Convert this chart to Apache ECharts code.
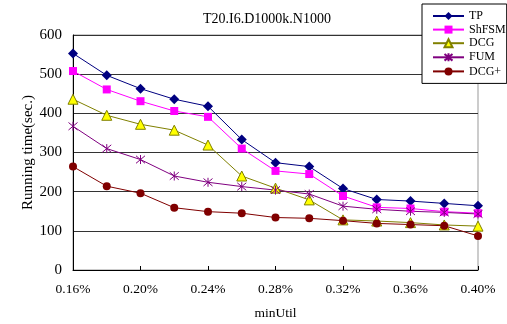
<!DOCTYPE html>
<html>
<head>
<meta charset="utf-8">
<script src="https://cdn.jsdelivr.net/npm/echarts@6/dist/echarts.min.js"></script>
<style>html,body{margin:0;padding:0;background:#fff}#c{width:507px;height:324px}</style>
</head>
<body>
<div id="c"></div>
<script>
const categories = ['0.16%','0.18%','0.20%','0.22%','0.24%','0.26%','0.28%','0.30%','0.32%','0.34%','0.36%','0.38%','0.40%'];
const tp    = [553, 497, 463, 436, 418, 333, 274, 264, 208, 180, 176, 170, 164];
const shfsm = [508, 461, 431, 406, 391, 310, 253, 245, 189, 160, 157, 149, 145];
const dcg   = [436, 395, 372, 357, 319, 240, 209, 179, 128, 125, 121, 115, 112];
const fum   = [367, 310, 282, 240, 224, 213, 204, 194, 163, 155, 150, 147, 143];
const dcgp  = [264, 214, 196, 159, 149, 145, 134, 132, 126, 119, 116, 113, 87];
const yTicks = [0, 100, 200, 300, 400, 500, 600];

const F = '"Liberation Serif","Times New Roman",serif';
const star = 'path://M0,0L10,10M10,0L0,10M5,-1L5,11';

const chart = echarts.init(document.getElementById('c'), null, {renderer:'canvas'});
chart.setOption({
  animation: false,
  backgroundColor: '#fff',
  title: {
    text: 'T20.I6.D1000k.N1000',
    left: 198, top: 7,
    textStyle: {fontFamily: F, fontSize: 14, fontWeight: 'normal', color: '#000'}
  },
  legend: {
    orient: 'vertical',
    left: 422, top: 4,
    padding: [6, 1, 6, 10],
    itemGap: 1.6,
    itemWidth: 31, itemHeight: 10,
    borderColor: '#000', borderWidth: 1,
    backgroundColor: '#fff',
    textStyle: {fontFamily: F, fontSize: 12, color: '#000', lineHeight: 12},
    data: ['TP','ShFSM','DCG','FUM','DCG+']
  },
  grid: {
    left: 73, right: 29, top: 35, bottom: 54,
    outerBoundsMode: 'none', containLabel: false,
    show: true, borderColor: '#999', borderWidth: 1
  },
  xAxis: {
    type: 'category',
    data: categories,
    boundaryGap: false,
    name: 'minUtil', nameLocation: 'middle', nameGap: 36, nameMoveOverlap: false,
    nameTextStyle: {fontFamily: F, fontSize: 13.5, color: '#000'},
    axisLine: {lineStyle: {color: '#000', width: 1}},
    axisTick: {inside: true, length: 4, interval: 1, lineStyle: {color: '#000'}},
    axisLabel: {interval: 1, margin: 12, fontFamily: F, fontSize: 13.5, color: '#000'},
    splitLine: {show: false}
  },
  yAxis: {
    type: 'value',
    min: yTicks[0], max: yTicks[yTicks.length-1], interval: 100,
    name: 'Running time(sec.)', nameLocation: 'middle', nameGap: 37, nameMoveOverlap: false,
    nameTextStyle: {fontFamily: F, fontSize: 15, color: '#000'},
    axisLine: {show: true, lineStyle: {color: '#000', width: 1}},
    axisTick: {show: false},
    axisLabel: {margin: 11, fontFamily: F, fontSize: 15, color: '#000'},
    splitLine: {show: true, lineStyle: {color: '#333', width: 1}}
  },
  series: [
    {name:'TP', type:'line', data: tp, symbol:'diamond', symbolSize: 10,
     lineStyle:{color:'#000080', width:1}, itemStyle:{color:'#000080'}},
    {name:'ShFSM', type:'line', data: shfsm, symbol:'rect', symbolSize: 8,
     lineStyle:{color:'#FF00FF', width:1}, itemStyle:{color:'#FF00FF'}},
    {name:'DCG', type:'line', data: dcg, symbol:'triangle', symbolSize: 10,
     lineStyle:{color:'#808000', width:1}, itemStyle:{color:'#FFFF00', borderColor:'#808000', borderWidth:1}},
    {name:'FUM', type:'line', data: fum, symbol: star, symbolSize: 9,
     lineStyle:{color:'#800080', width:1}, itemStyle:{color:'none', borderColor:'#800080', borderWidth:1}},
    {name:'DCG+', type:'line', data: dcgp, symbol:'circle', symbolSize: 8,
     lineStyle:{color:'#800000', width:1}, itemStyle:{color:'#800000'}}
  ]
});
</script>
</body>
</html>
